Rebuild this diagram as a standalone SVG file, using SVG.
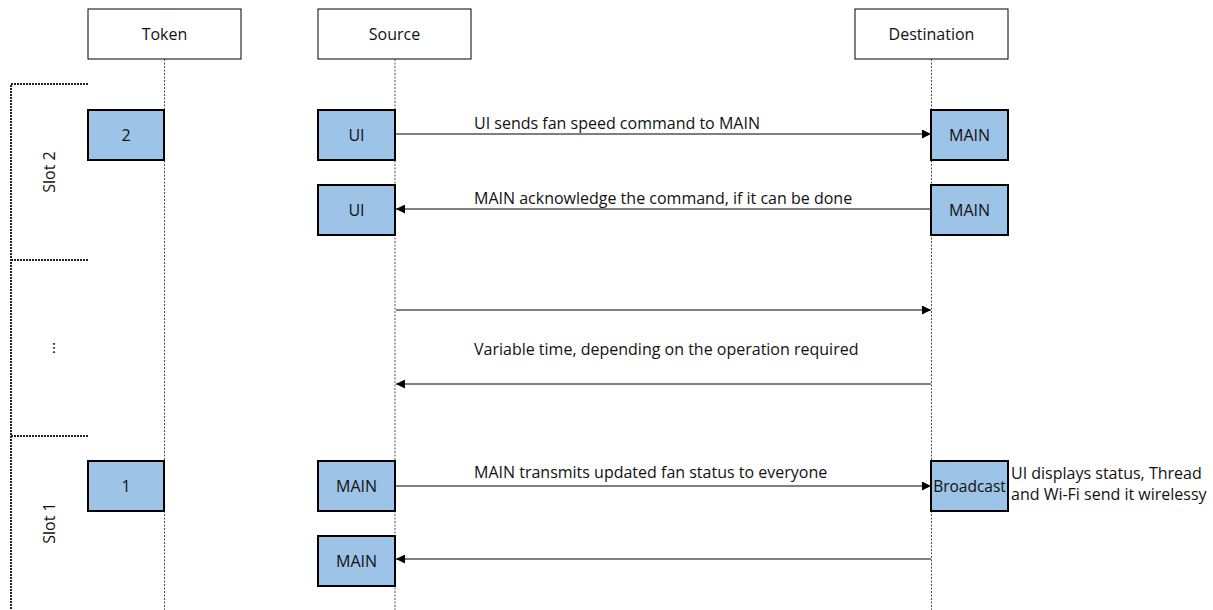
<svg xmlns="http://www.w3.org/2000/svg" width="1213" height="610" viewBox="0 0 1213 610">
<style>
text{font-family:"Open Sans","Liberation Sans",sans-serif;font-size:16px;fill:#111}
.hdr{fill:#fff;stroke:#000;stroke-width:1}
.box{fill:#9dc3e6;stroke:#000;stroke-width:2}
.life{stroke:#555;stroke-width:1;stroke-dasharray:2,1.5;fill:none}
.br{stroke:#222;stroke-width:2;stroke-dasharray:2,1;fill:none}
.msg{stroke:#000;stroke-width:1.2;fill:none}
.c{text-anchor:middle}
</style>
<defs>
<marker id="ah" viewBox="0 0 10 10" refX="10" refY="5" markerWidth="9" markerHeight="9" markerUnits="userSpaceOnUse" orient="auto">
<path d="M0,0 L10,5 L0,10 z" fill="#000"/>
</marker>
</defs>
<rect width="1213" height="610" fill="#fff"/>
<g id="lifelines">
<line class="life" x1="164.5" y1="59" x2="164.5" y2="610"/>
<line class="life" x1="395" y1="59" x2="395" y2="610"/>
<line class="life" x1="931.5" y1="59" x2="931.5" y2="610"/>
</g>
<g id="slots">
<path class="br" d="M88,84 H11 V610"/>
<path class="br" d="M11,260 H88"/>
<path class="br" d="M11,436 H88"/>
<text class="c" transform="translate(55,172) rotate(-90)">Slot 2</text>
<text class="c" transform="translate(55,348) rotate(-90)">...</text>
<text class="c" transform="translate(55,523) rotate(-90)">Slot 1</text>
</g>
<g id="hdr-token"><rect class="hdr" x="88" y="9" width="153" height="50"/><text class="c" x="164.5" y="40">Token</text></g>
<g id="hdr-source"><rect class="hdr" x="318" y="9" width="153" height="50"/><text class="c" x="394.5" y="40">Source</text></g>
<g id="hdr-dest"><rect class="hdr" x="855" y="9" width="153" height="50"/><text class="c" x="931.5" y="40">Destination</text></g>
<g id="tok2"><rect class="box" x="88" y="110" width="76" height="50"/><text class="c" x="126" y="141">2</text></g>
<g id="ui1"><rect class="box" x="318" y="110" width="77" height="50"/><text class="c" x="356.5" y="141">UI</text></g>
<g id="main1"><rect class="box" x="931" y="110" width="77" height="50"/><text class="c" x="969.5" y="141">MAIN</text></g>
<g id="ui2"><rect class="box" x="318" y="185" width="77" height="50"/><text class="c" x="356.5" y="216">UI</text></g>
<g id="main2"><rect class="box" x="931" y="185" width="77" height="50"/><text class="c" x="969.5" y="216">MAIN</text></g>
<g id="tok1"><rect class="box" x="88" y="461" width="76" height="50"/><text class="c" x="126" y="492">1</text></g>
<g id="main3"><rect class="box" x="318" y="461" width="77" height="50"/><text class="c" x="356.5" y="492">MAIN</text></g>
<g id="bcast"><rect class="box" x="931" y="461" width="77" height="50"/><text class="c" x="969.5" y="492" style="font-size:15.5px">Broadcast</text></g>
<g id="main4"><rect class="box" x="318" y="536" width="77" height="50"/><text class="c" x="356.5" y="567">MAIN</text></g>
<g id="note"><text x="1011" y="479">UI displays status, Thread</text><text x="1011" y="500">and Wi-Fi send it wirelessy</text></g>
<g id="connectors">
<line class="msg" x1="396" y1="134" x2="931" y2="134" marker-end="url(#ah)"/>
<line class="msg" x1="931" y1="209" x2="396" y2="209" marker-end="url(#ah)"/>
<line class="msg" x1="396" y1="310" x2="931" y2="310" marker-end="url(#ah)"/>
<line class="msg" x1="931" y1="384" x2="396" y2="384" marker-end="url(#ah)"/>
<line class="msg" x1="396" y1="486" x2="931" y2="486" marker-end="url(#ah)"/>
<line class="msg" x1="931" y1="559" x2="396" y2="559" marker-end="url(#ah)"/>
<text x="474" y="129">UI sends fan speed command to MAIN</text>
<text x="474" y="204">MAIN acknowledge the command, if it can be done</text>
<text x="474" y="355">Variable time, depending on the operation required</text>
<text x="474" y="478">MAIN transmits updated fan status to everyone</text>
</g>
</svg>
